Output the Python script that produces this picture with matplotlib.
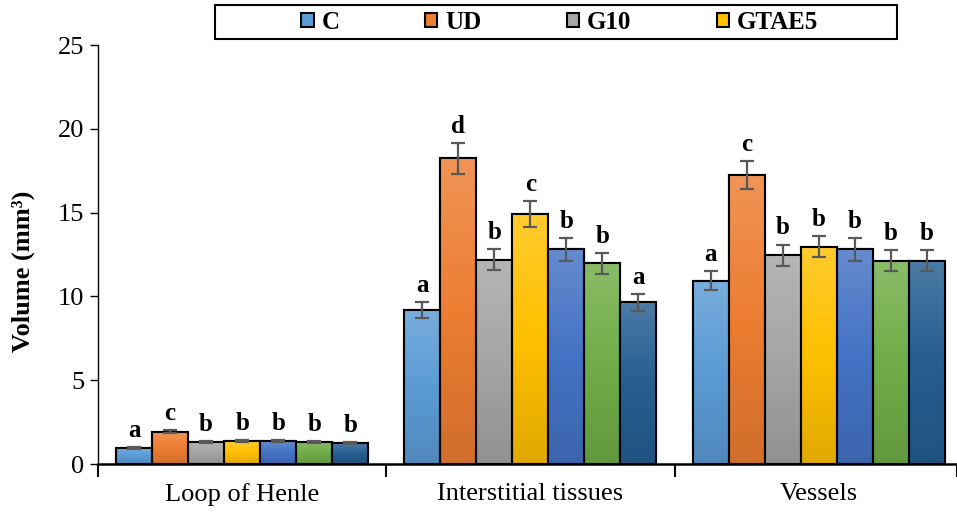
import matplotlib
matplotlib.use("Agg")
import matplotlib.pyplot as plt
import numpy as np
from matplotlib.colors import LinearSegmentedColormap, to_rgb
from matplotlib.patches import Rectangle

plt.rcParams['font.family'] = ['Liberation Serif', 'DejaVu Serif']

categories = ['Loop of Henle', 'Interstitial tissues', 'Vessels']
series = ['C', 'UD', 'G10', 'GTAE5', 'S5', 'S6', 'S7']
legend_names = ['C', 'UD', 'G10', 'GTAE5']

values = np.array([
    [0.97, 9.19, 10.95],
    [1.93, 18.24, 17.26],
    [1.33, 12.19, 12.46],
    [1.37, 14.92, 12.96],
    [1.35, 12.81, 12.82],
    [1.33, 11.97, 12.14],
    [1.25, 9.65, 12.12],
])
errors = np.array([
    [0.06, 0.48, 0.55],
    [0.09, 0.93, 0.85],
    [0.06, 0.64, 0.64],
    [0.06, 0.76, 0.63],
    [0.06, 0.67, 0.68],
    [0.06, 0.61, 0.65],
    [0.06, 0.51, 0.63],
])
letters = [
    ['a', 'a', 'a'],
    ['c', 'd', 'c'],
    ['b', 'b', 'b'],
    ['b', 'c', 'b'],
    ['b', 'b', 'b'],
    ['b', 'b', 'b'],
    ['b', 'a', 'b'],
]
colors = ['#5B9BD5', '#ED7D31', '#A5A5A5', '#FFC000', '#4472C4', '#70AD47', '#255E91']


def shade(c, f):
    r = np.array(to_rgb(c))
    if f > 0:
        return tuple(r + (1 - r) * f)
    return tuple(r * (1 + f))


fig = plt.figure(figsize=(9.57, 5.13), dpi=100)
ax = fig.add_axes([0.1024, 0.0955, 0.8976, 0.8165])

x = np.arange(len(categories))
w = 0.125
handles = []
for i, name in enumerate(series):
    pos = x + (i - 3) * w
    bars = ax.bar(pos, values[i], w, color=colors[i], edgecolor='black',
                  linewidth=1.5, zorder=2)
    if i < len(legend_names):
        handles.append(bars)
    # vertical gradient, lighter at the top
    cmap = LinearSegmentedColormap.from_list(
        'g%d' % i, [shade(colors[i], -0.12), colors[i], shade(colors[i], 0.18)])
    grad = np.linspace(0, 1, 256).reshape(-1, 1)
    for b in bars:
        bx, by = b.get_x(), b.get_y()
        im = ax.imshow(grad, cmap=cmap, origin='lower', aspect='auto',
                       extent=(bx, bx + b.get_width(), by, by + b.get_height()),
                       zorder=2.1)
        im.set_clip_path(b)
        ax.bar(b.get_x() + w / 2, b.get_height(), w, fill=False,
               edgecolor='black', linewidth=1.5, zorder=2.2)
    ax.errorbar(pos, values[i], yerr=errors[i], fmt='none', ecolor='#595959',
                elinewidth=1.6, capsize=5, capthick=1.6, zorder=3)
    for j in range(len(categories)):
        ax.text(pos[j], values[i][j] + errors[i][j] + 0.3, letters[i][j],
                ha='center', va='bottom', fontsize=18, fontweight='bold')

ax.set_xlim(-0.5, 2.48)
ax.set_ylim(0, 25)
ax.set_yticks(np.arange(0, 26, 5))
ax.tick_params(axis='y', labelsize=19, direction='out', length=6, width=1, pad=4)
ax.set_xticks(x)
ax.set_xticklabels(categories, fontsize=19)
ax.tick_params(axis='x', length=0, pad=14)
ax.set_xticks([-0.5, 0.5, 1.5, 2.48], minor=True)
ax.tick_params(axis='x', which='minor', length=9, width=1.5, direction='out')
ax.spines['top'].set_visible(False)
ax.spines['right'].set_visible(False)
ax.spines['bottom'].set_linewidth(1.8)
ax.spines['left'].set_linewidth(1)
ax.set_ylabel('Volume (mm³)', fontsize=19, fontweight='bold')
ax.yaxis.set_label_coords(-0.0733, 0.46)

# legend box drawn separately (wide side padding as in the original)
fig.add_artist(Rectangle((215 / 957, 1 - 39 / 513), 682 / 957, 34 / 513,
                         transform=fig.transFigure, facecolor='white',
                         edgecolor='black', linewidth=1.5, zorder=5))
leg = fig.legend(handles=handles, labels=legend_names, loc='center',
                 bbox_to_anchor=(0.585, 0.957), ncol=4, frameon=False,
                 handlelength=0.5, handleheight=0.5, handletextpad=0.32,
                 columnspacing=3.4, borderpad=0.1,
                 prop={'weight': 'bold', 'size': 18})
leg.set_zorder(6)

fig.savefig('out.png', dpi=100)
